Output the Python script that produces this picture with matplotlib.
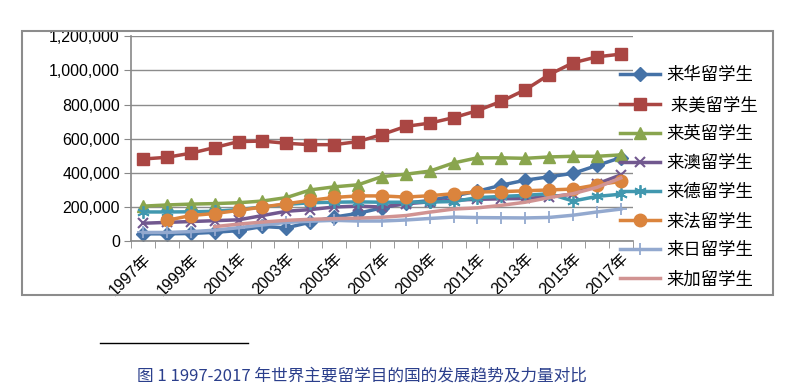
import numpy as np
import matplotlib
matplotlib.use('Agg')
import matplotlib.pyplot as plt
from matplotlib.lines import Line2D
from matplotlib.patches import Rectangle
from matplotlib.ticker import FuncFormatter

plt.rcParams['font.family'] = ['Liberation Sans', 'Noto Sans CJK SC', 'DejaVu Sans']

nan = np.nan

# years and number of international students in thousands
years = list(range(1997, 2018))
tick_labels = [f'{y}年' for y in years]

china = [43, 43, 45, 52, 62, 86, 78, 111, 141, 163, 195, 223, 238, 265, 292, 328, 357, 377, 397, 443, 489]
usa = [481, 491, 515, 548, 583, 586, 573, 565, 565, 583, 624, 672, 691, 723, 764, 819, 886, 975, 1044, 1079, 1095]
uk = [205, 212, 217, 220, 225, 235, 255, 300, 318, 330, 378, 392, 410, 458, 488, 488, 485, 493, 497, 497, 505]
australia = [105, 110, 115, 120, 125, 150, 175, 185, 200, 205, 200, 219, 230, 240, 245, 248, 250, 260, 275, 335, 388]
germany = [171, 171, 172, 175, 185, 200, 215, 225, 228, 230, 228, 228, 229, 232, 255, 262, 268, 278, 235, 262, 275]
france = [nan, 122, 150, 162, 180, 200, 219, 239, 256, 265, 265, 258, 266, 278, 288, 290, 295, 300, 305, 330, 350]
japan = [51, 51, 56, 64, 79, 95, 110, 117, 122, 118, 118, 124, 133, 141, 138, 137, 136, 139, 152, 171, 188]
canada = [nan, nan, nan, 85, 100, 112, 122, 128, 132, 135, 140, 150, 170, 188, 195, 210, 228, 255, 278, 315, 370]

series = [
    ('来华留学生', china, '#4572A7', 'D', 7, 1),
    (' 来美留学生', usa, '#AA4643', 's', 8, 1),
    ('来英留学生', uk, '#89A54E', '^', 8, 1),
    ('来澳留学生', australia, '#71588F', 'x', 7, 1.5),
    ('来德留学生', germany, '#4198AF', (6, 2, 0), 9, 1.3),
    ('来法留学生', france, '#DB843D', 'o', 9, 1),
    ('来日留学生', japan, '#93A9CF', '+', 9, 1.3),
    ('来加留学生', canada, '#D19392', None, 0, 1),
]

fig = plt.figure(figsize=(8.04, 3.89), dpi=100)
ax = fig.add_axes([0.163, 0.380, 0.624, 0.527])

x = np.arange(len(years))
for label, vals, color, marker, ms, mew in series:
    ax.plot(x, np.array(vals) * 1000, color=color, lw=2.5, marker=marker,
            markersize=ms, markeredgewidth=mew, markeredgecolor=color,
            markerfacecolor=color, label=label)

ax.set_ylim(0, 1200000)
ax.set_yticks(range(0, 1200001, 200000))
ax.yaxis.set_major_formatter(FuncFormatter(lambda v, p: f'{int(v):,}'))
ax.set_xlim(-0.5, len(years) - 0.5)
ax.set_xticks(x[::2])
ax.set_xticklabels(tick_labels[::2], rotation=45, ha='right', va='top',
                   rotation_mode='anchor', fontsize=11.5)
ax.set_xticks(np.arange(-0.5, len(years)), minor=True)
ax.tick_params(axis='x', which='major', length=0, pad=7)
ax.tick_params(axis='x', which='minor', length=5, color='#888888')
ax.tick_params(axis='y', length=5, color='#888888', labelsize=11.5, pad=3)

ax.grid(axis='y', color='#8c8c8c', lw=1)
ax.set_axisbelow(True)
for side in ['top', 'right']:
    ax.spines[side].set_visible(False)
for side in ['left', 'bottom']:
    ax.spines[side].set_color('#888888')
    ax.spines[side].set_linewidth(1.2)

ax.legend(loc='upper left', bbox_to_anchor=(0.762, 0.845), bbox_transform=fig.transFigure,
          frameon=False, fontsize=12.5, handlelength=2.3, labelspacing=0.74,
          handletextpad=0.4, borderaxespad=0)

# outer chart frame
fig.patches.append(Rectangle((0.027, 0.242), 0.934, 0.679, transform=fig.transFigure,
                             fill=False, edgecolor='#8c8c8c', lw=1.5))

# footnote separator and caption
fig.lines.append(Line2D([0.124, 0.308], [0.118, 0.118], transform=fig.transFigure,
                        color='black', lw=1))
fig.text(0.45, 0.033, '图 1 1997-2017 年世界主要留学目的国的发展趋势及力量对比',
         ha='center', va='center', fontsize=12, color='#2B3F8C',
         family=['Noto Sans CJK SC', 'DejaVu Sans'])

fig.savefig('out.png', dpi=100)
